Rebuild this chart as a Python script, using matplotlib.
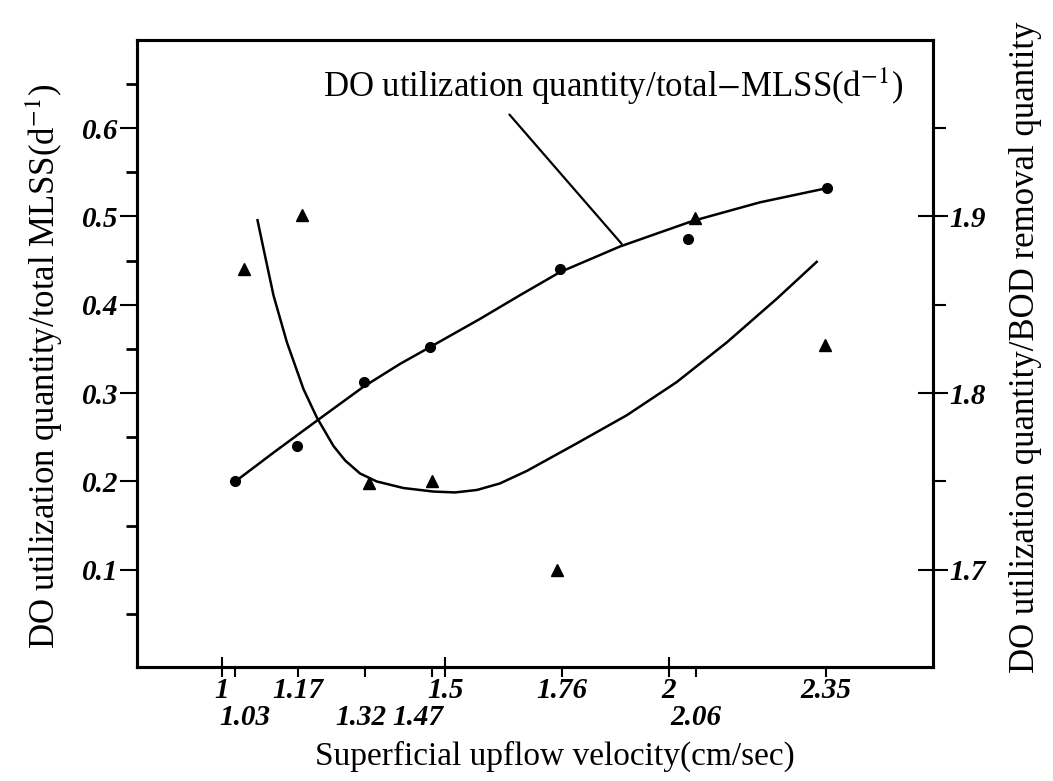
import matplotlib
matplotlib.use("Agg")
import matplotlib.pyplot as plt
from matplotlib.transforms import ScaledTranslation

plt.rcParams['font.family'] = ['Liberation Serif', 'DejaVu Serif']
plt.rcParams['mathtext.fontset'] = 'stix'

mlss_x = [1.03, 1.168, 1.317, 1.465, 1.756, 2.042, 2.352]
mlss_y = [0.200, 0.240, 0.313, 0.352, 0.441, 0.475, 0.532]

bod_x = [1.05, 1.179, 1.328, 1.469, 1.749, 2.057, 2.349]
bod_y = [1.870, 1.901, 1.749, 1.750, 1.700, 1.899, 1.827]

# hand drawn trend lines
mlss_curve_x = [1.030, 1.119, 1.213, 1.316, 1.398, 1.465, 1.577, 1.667, 1.756, 1.890, 2.053, 2.203, 2.352]
mlss_curve_y = [0.200, 0.234, 0.269, 0.307, 0.333, 0.352, 0.384, 0.411, 0.437, 0.466, 0.495, 0.516, 0.532]

bod_curve_x = [1.0797, 1.0931, 1.1155, 1.1454, 1.1825, 1.2124, 1.2495, 1.2756, 1.3091, 1.3464, 1.4059,
               1.4729, 1.5213, 1.5705, 1.6218, 1.6821, 1.7938, 1.9055, 2.0172, 2.1289, 2.2406, 2.3300]
bod_curve_y = [1.8979, 1.8818, 1.8553, 1.8288, 1.8023, 1.7862, 1.7701, 1.7619, 1.7545, 1.7500, 1.7463,
               1.7443, 1.7438, 1.7452, 1.7489, 1.7560, 1.7716, 1.7875, 1.8063, 1.8287, 1.8534, 1.8743]

x_major = [1, 1.5, 2]
x_major_labels = ['1', '1.5', '2']
x_minor = [1.03, 1.17, 1.32, 1.47, 1.76, 2.06, 2.35]
x_minor_labels = ['', '1.17', '', '', '1.76', '', '2.35']
x_row2 = [1.03, 1.32, 1.47, 2.06]
x_row2_labels = ['1.03', '1.32', '1.47', '2.06']

left_ticks = [0.1, 0.2, 0.3, 0.4, 0.5, 0.6]
left_minor = [0.05, 0.15, 0.25, 0.35, 0.45, 0.55, 0.65]
right_ticks = [1.7, 1.8, 1.9]
right_minor = [1.75, 1.85, 1.95]

tick_font = dict(family=['Liberation Serif', 'DejaVu Serif'], style='italic', weight='bold', size=21)

fig = plt.figure(figsize=(10.53, 7.81), dpi=100)
ax = fig.add_axes([0.130, 0.146, 0.756, 0.803])
ax2 = ax.twinx()

ax.plot(mlss_curve_x, mlss_curve_y, color='black', lw=1.8)
ax.plot(mlss_x, mlss_y, 'o', color='black', ms=7)
ax2.plot(bod_curve_x, bod_curve_y, color='black', lw=1.8)
ax2.plot(bod_x, bod_y, '^', color='black', ms=9)

ax.set_xlim(0.81, 2.59)
ax.set_ylim(-0.01, 0.70)
ax2.set_ylim(1.645, 2.0)

for a in (ax, ax2):
    for s in a.spines.values():
        s.set_linewidth(2.2)

# x axis: two rows of labels
ax.set_xticks(x_major)
ax.set_xticklabels(x_major_labels, fontdict=tick_font)
ax.set_xticks(x_minor, minor=True)
ax.set_xticklabels(x_minor_labels, minor=True, fontdict=tick_font)
ax.tick_params(axis='x', which='major', direction='inout', length=14, width=1.5, pad=0)
ax.tick_params(axis='x', which='minor', direction='out', length=7, width=1.5, pad=0)

sec = ax.secondary_xaxis('bottom')
sec.set_xticks(x_row2)
sec.set_xticklabels(x_row2_labels, fontdict=tick_font)
sec.tick_params(axis='x', length=0, pad=27)
sec.spines['bottom'].set_visible(False)
# nudge crowded second-row labels sideways, as in the original
shifts = {'1.03': 7, '1.32': -3, '1.47': -10, '2.06': 0}
for lab in sec.get_xticklabels():
    dx = shifts.get(lab.get_text(), 0)
    lab.set_transform(lab.get_transform() + ScaledTranslation(dx / 72, 0, fig.dpi_scale_trans))

ax.set_yticks(left_ticks)
ax.set_yticklabels([f'{v:.1f}' for v in left_ticks], fontdict=tick_font)
ax.set_yticks(left_minor, minor=True)
ax.tick_params(axis='y', which='major', direction='out', length=12, width=1.5, pad=1)
ax.tick_params(axis='y', which='minor', direction='out', length=8, width=2)

ax2.set_yticks(right_ticks)
ax2.set_yticklabels([f'{v:.1f}' for v in right_ticks], fontdict=tick_font)
ax2.set_yticks(right_minor, minor=True)
ax2.tick_params(axis='y', which='major', direction='inout', length=22, width=1.5, pad=1)
ax2.tick_params(axis='y', which='minor', direction='out', length=9, width=1.5)

ax.set_xlabel('Superficial upflow velocity(cm/sec)', fontsize=24, va='center')
ax.xaxis.set_label_coords(0.525, -0.142)
ax.set_ylabel(r'DO utilization quantity/total MLSS(d$^{-1}$)', fontsize=25, va='center')
ax.yaxis.set_label_coords(-0.116, 0.48)
ax2.set_ylabel('DO utilization quantity/BOD removal quantity', fontsize=25, va='center', rotation=90)
ax2.yaxis.set_label_coords(1.116, 0.51)

ax.annotate(r'DO utilization quantity/total$-$MLSS(d$^{-1}$)', xy=(1.894, 0.469), xytext=(1.874, 0.648),
            ha='center', va='center', fontsize=25,
            arrowprops=dict(arrowstyle='-', relpos=(0.31, 0), shrinkA=5, shrinkB=0, lw=1.6, color='black'))

fig.savefig('out.png', dpi=100)
